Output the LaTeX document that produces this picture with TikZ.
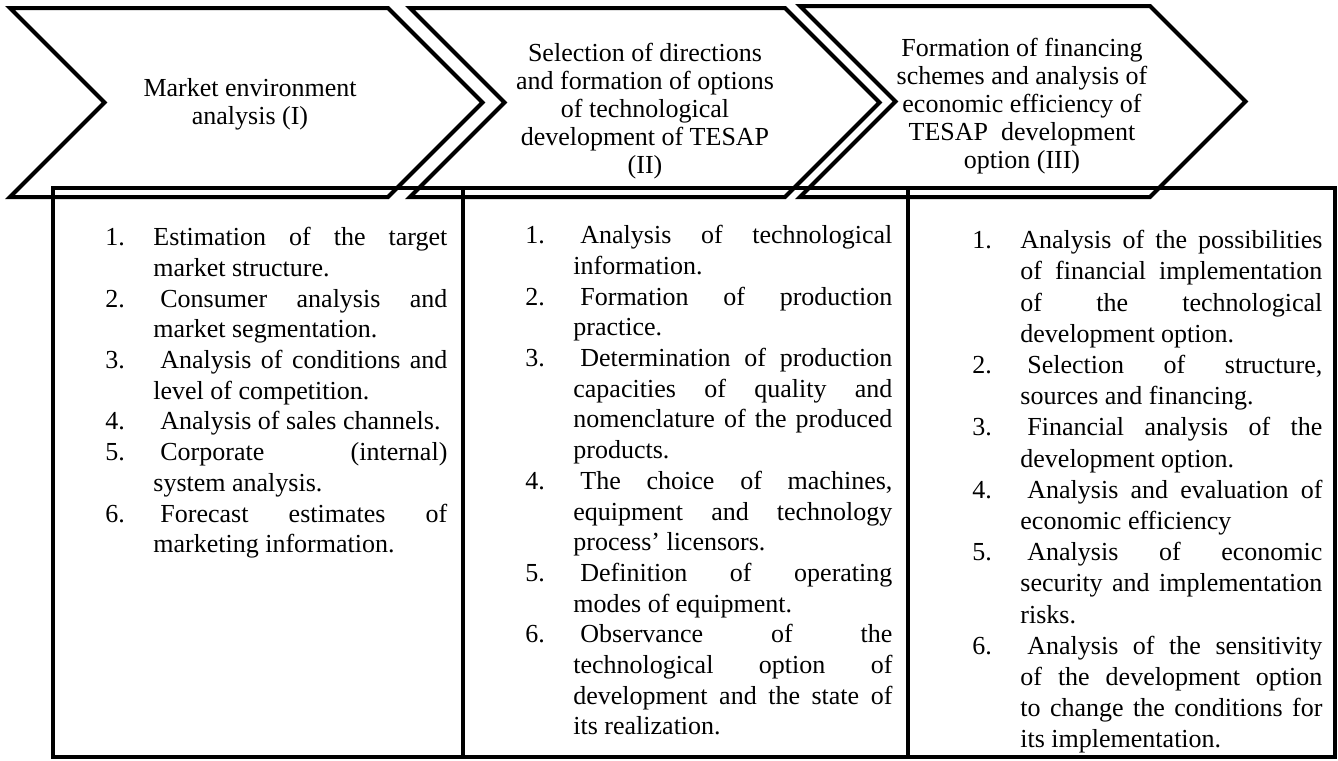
\documentclass[tikz,border=0pt]{standalone}
\usepackage{fontspec}
\setmainfont{Liberation Serif}
\usetikzlibrary{calc}

\tikzset{
  chevron/.style={line width=2pt, line join=miter},
  frame/.style={line width=1.8pt},
  stagetext/.style={align=center, inner sep=0pt, font=\fontsize{13}{14}\selectfont},
  listtext/.style={anchor=north west, align=justify, inner sep=0pt, font=\fontsize{13}{15.35}\selectfont},
}
\newcommand{\numitem}[2]{\noindent\hangindent=24pt\hangafter=1\makebox[24pt][l]{#1}#2\par}
\hyphenpenalty=10000
\exhyphenpenalty=10000
\hbadness=10000

\begin{document}
\begin{tikzpicture}[x=0.5pt, y=-0.5pt]
\useasboundingbox (0,0) rectangle (1338,760);

% Stage chevrons
\draw[chevron] (10,8) -- (388,8) -- (482.5,102.5) -- (388,197) -- (10,197) -- (104.5,102.5) -- cycle;
\draw[chevron] (410,8) -- (785,8) -- (879.5,102.5) -- (785,197) -- (410,197) -- (504.5,102.5) -- cycle;
\draw[chevron] (800,6) -- (1150,6) -- (1245.5,101.5) -- (1150,197) -- (800,197) -- (895.5,101.5) -- cycle;

% Stage titles
\node[stagetext] (stageone) at (250,104) {Market environment\\analysis (I)};
\node[stagetext] (stagetwo) at (645,111) {Selection of directions\\and formation of options\\of technological\\development of TESAP\\(II)};
\node[stagetext] (stagethree) at (1022,106) {Formation of financing\\schemes and analysis of\\economic efficiency of\\TESAP~ development\\option (III)};

% Table frame
\coordinate (frametl) at (53,188);
\coordinate (framebr) at (1335,757);
\draw[frame] (frametl) rectangle (framebr);
\draw[frame] (463,188) -- (463,757);
\draw[frame] (908,188) -- (908,757);

% Task lists
\node[listtext, text width=171pt] (taskone) at (105,227) {%
\numitem{1.}{Estimation of the target\linebreak market structure.}
\numitem{2.}{\hspace{3.5pt}Consumer analysis and\linebreak market segmentation.}
\numitem{3.}{\hspace{3.5pt}Analysis of conditions and\linebreak level of competition.}
\numitem{4.}{\hspace{3.5pt}Analysis of sales channels.}
\numitem{5.}{\hspace{3.5pt}Corporate (internal)\linebreak system analysis.}
\numitem{6.}{\hspace{3.5pt}Forecast estimates of\linebreak marketing information.}};

\node[listtext, text width=183.5pt] (tasktwo) at (525,225) {%
\numitem{1.}{\hspace{3.5pt}Analysis of technological\linebreak information.}
\numitem{2.}{\hspace{3.5pt}Formation of production\linebreak practice.}
\numitem{3.}{\hspace{3.5pt}Determination of production\linebreak capacities of quality and\linebreak nomenclature of the produced\linebreak products.}
\numitem{4.}{\hspace{3.5pt}The choice of machines,\linebreak equipment and technology\linebreak process' licensors.}
\numitem{5.}{\hspace{3.5pt}Definition of operating\linebreak modes of equipment.}
\numitem{6.}{\hspace{3.5pt}Observance of the\linebreak technological option of\linebreak development and the state of\linebreak its realization.}};

\node[listtext, text width=175pt, font=\fontsize{13}{15.6}\selectfont] (taskthree) at (972,230) {%
\numitem{1.}{Analysis of the possibilities\linebreak of financial implementation\linebreak of the technological\linebreak development option.}
\numitem{2.}{\hspace{3.5pt}Selection of structure,\linebreak sources and financing.}
\numitem{3.}{\hspace{3.5pt}Financial analysis of the\linebreak development option.}
\numitem{4.}{\hspace{3.5pt}Analysis and evaluation of\linebreak economic efficiency}
\numitem{5.}{\hspace{3.5pt}Analysis of economic\linebreak security and implementation\linebreak risks.}
\numitem{6.}{\hspace{3.5pt}Analysis of the sensitivity\linebreak of the development option\linebreak to change the conditions for\linebreak its implementation.}};
\end{tikzpicture}
\end{document}
